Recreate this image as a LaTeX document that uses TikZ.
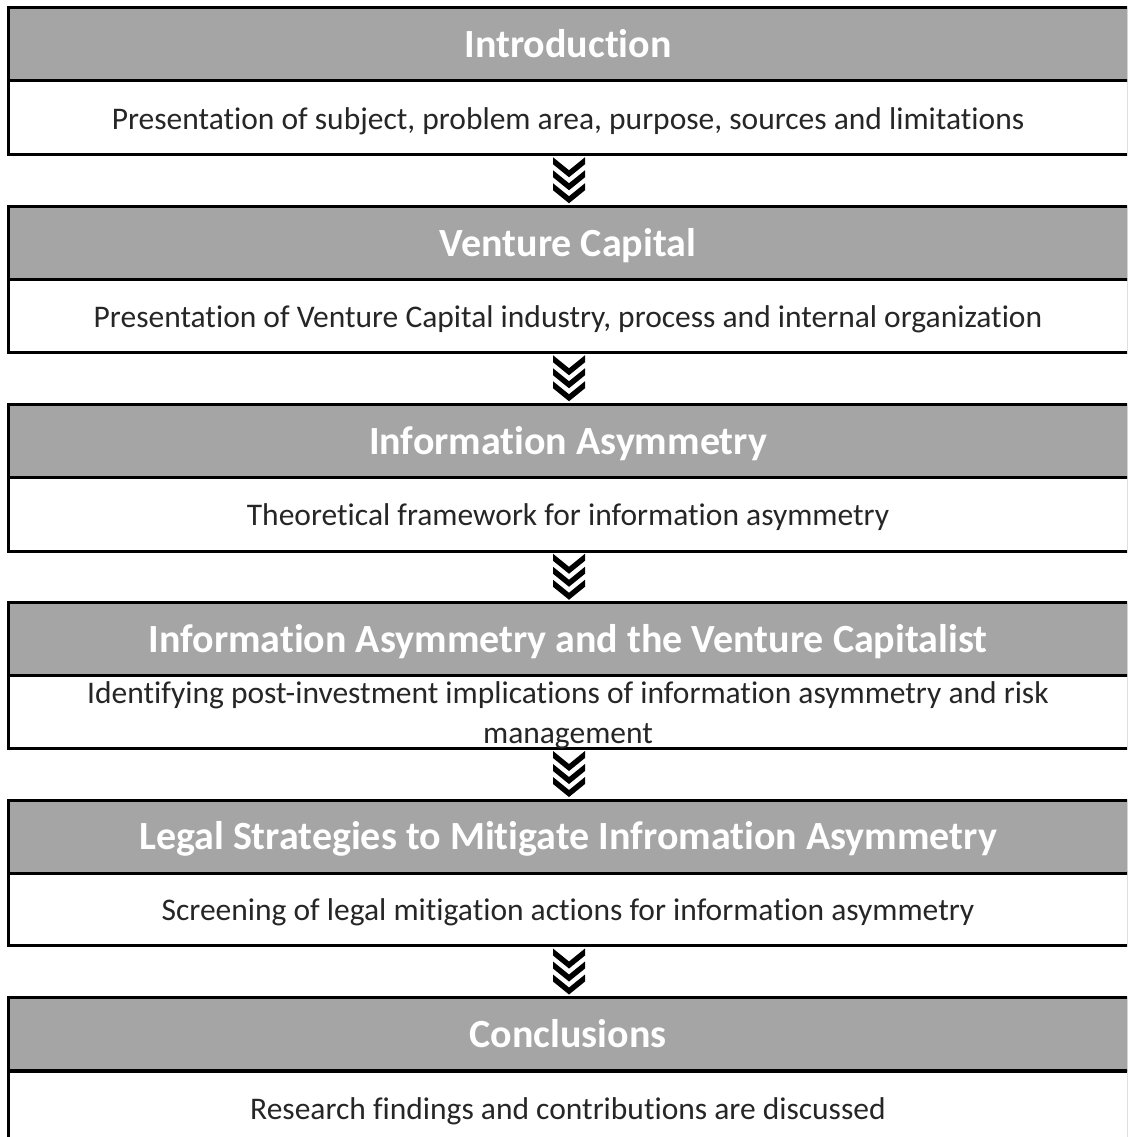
\documentclass[tikz,border=0pt]{standalone}
\usepackage{fontspec}
\setmainfont[Ligatures=NoCommon]{Carlito}
\usetikzlibrary{calc}
\definecolor{bandgray}{HTML}{A5A5A5}
\begin{document}
\begin{tikzpicture}[x=1pt,y=1pt,
  titlebox/.style={draw=black, line width=3pt, fill=bandgray, rectangle,
    minimum width=1120pt, minimum height=73pt, inner sep=0pt, text=white,
    text height=36pt, text depth=10pt,
    font=\fontsize{40}{44}\selectfont\bfseries},
  bodybox/.style={draw=black, line width=3pt, fill=white, rectangle,
    minimum width=1120pt, minimum height=73pt, inner sep=0pt, text=black!85,
    text height=31pt, text depth=8pt,
    align=center, font=\fontsize{31.5}{40}\selectfont},
  chev/.style={fill=black}]
\useasboundingbox (0,0) rectangle (1127,-1137);
\clip (0,0) rectangle (1127,-1137);
% boxes (y = - pixel position)
\node[bodybox] (b1) at (568,-117.5) {Presentation of subject, problem area, purpose, sources and limitations};
\node[titlebox] (t1) at (568,-44.5) {Introduction};
\node[bodybox] (b2) at (568,-315.5) {Presentation of Venture Capital industry, process and internal organization};
\node[titlebox] (t2) at (568,-243) {Venture Capital};
\node[bodybox, minimum height=74pt] (b3) at (568,-514) {Theoretical framework for information asymmetry};
\node[titlebox] (t3) at (568,-441) {Information Asymmetry};
\node[bodybox, text height=68pt, text depth=5pt] (b4) at (568,-711.5) {Identifying post-investment implications of information asymmetry and risk\\management};
\node[titlebox] (t4) at (568,-639) {Information Asymmetry and the Venture Capitalist};
\node[bodybox] (b5) at (568,-909) {Screening of legal mitigation actions for information asymmetry};
\node[titlebox] (t5) at (568,-836.5) {Legal Strategies to Mitigate Infromation Asymmetry};
\node[bodybox, minimum height=74pt] (b6) at (568,-1108) {Research findings and contributions are discussed};
\node[titlebox] (t6) at (568,-1034) {Conclusions};
% chevron connectors
\foreach \a/\b in {b1/t2,b2/t3,b3/t4,b4/t5,b5/t6}{
  \coordinate (m) at ($(\a.south)!0.5!(\b.north)+(1,23)$);
  \foreach \k in {0,1,2}{
    \fill[chev, shift={(m)}] (-16,-13*\k) -- (0,-13*\k-13) -- (16,-13*\k) -- (16,-13*\k-7) -- (0,-13*\k-20) -- (-16,-13*\k-7) -- cycle;
  }
}
\end{tikzpicture}
\end{document}
